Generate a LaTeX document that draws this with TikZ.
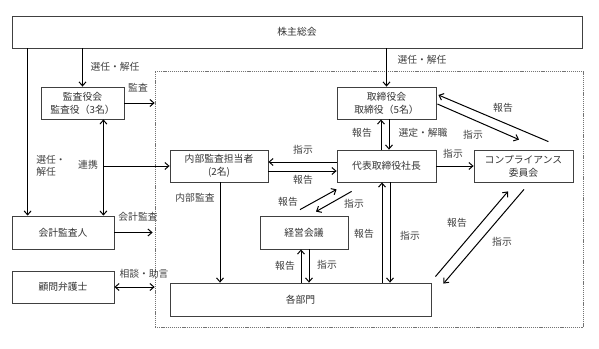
\documentclass[tikz,border=0pt]{standalone}
\usepackage{fontspec}
\setmainfont{Noto Sans CJK JP}
\usetikzlibrary{arrows.meta,positioning,calc}
\tikzset{
  box/.style={rectangle, draw=black!75, line width=0.8pt, minimum width=#1, minimum height=32pt,
              inner sep=1pt, align=center, font=\fontsize{9.8}{13}\selectfont, text=black!80},
  box/.default=99pt,
  frame/.style={rectangle, draw=black!55, line width=0.7pt, dash pattern=on 1.2pt off 0.9pt},
  lbl/.style={font=\fontsize{9.8}{12}\selectfont, text=black!75, inner sep=0pt, align=left},
  arr/.style={-{Straight Barb[length=4pt,width=7pt]}, line width=1pt},
  darr/.style={{Straight Barb[length=4pt,width=7pt]}-{Straight Barb[length=4pt,width=7pt]}, line width=1pt},
}

\begin{document}
\begin{tikzpicture}[x=1pt, y=-1pt]
\useasboundingbox (0,0) rectangle (599,348);

% SHAREHOLDERS
\node[box=570pt] (soukai) at (297,32) {株主総会};

% COMPANY FRAME
\node[frame, minimum width=428pt, minimum height=256pt] (grp) at (369,199) {};

% LEFT SIDE
\node[box=83pt] (kansa) at (82.5,103) {監査役会\\監査役（3名）};
\node[box=102pt, minimum height=33pt] (kaikei) at (63,232.5) {会計監査人};
\node[box=102pt] (komon) at (63,287) {顧問弁護士};

% INSIDE
\node[box=98pt] (naibu) at (219,166) {内部監査担当者\\(2名)};
\node[box] (tori) at (386.5,103) {取締役会\\取締役（5名）};
\node[box] (daihyo) at (386.5,166) {代表取締役社長};
\node[box] (comp) at (523.5,166) {コンプライアンス\\委員会};
\node[box=88pt, minimum height=33pt] (keiei) at (304,232.5) {経営会議};
\node[box=261pt, minimum height=33pt] (kakubu) at (300.5,299.5) {各部門};

% Arrows from shareholders
\draw[arr] (kansa.north |- soukai.south) -- (kansa.north);
\node[lbl] at (115,67) {選任・解任};
\draw[arr] (tori.north |- soukai.south) -- (tori.north);
\node[lbl] at (422,60) {選任・解任};
\coordinate (lft) at ($(kaikei.north west)+(16,0)$);
\draw[arr] (lft |- soukai.south) -- (lft);
\node[lbl] at (51,166) {選任・\\解任};

% Audit links
\coordinate (rk) at ($(kansa.south east)+(-21,0)$);
\draw[darr] (rk) -- (rk |- kaikei.north);
\draw[arr] (rk |- naibu.west) -- (naibu.west);
\node[lbl] at (88,165) {連携};
\draw[arr] (kansa.east) -- (kansa.east -| grp.west);
\node[lbl] at (138,88) {監査};
\draw[arr] (kaikei.east) -- ($(kaikei.east -| grp.west)+(-2,0)$);
\node[lbl] at (138,217) {会計監査};
\draw[darr] (komon.east) -- (komon.east -| grp.west);
\node[lbl] at (144,274) {相談・助言};

% Internal audit
\draw[arr] ($(daihyo.west)+(0,-4)$) -- ($(naibu.east)+(0,-4)$);
\node[lbl] at (303,150) {指示};
\draw[arr] ($(naibu.east)+(0,5)$) -- ($(daihyo.west)+(0,5)$);
\node[lbl] at (303,180) {報告};
\coordinate (na) at ($(naibu.south)+(1,0)$);
\draw[arr] (na) -- (na |- kakubu.north);
\node[lbl] at (195,198) {内部監査};

% Board and president
\draw[arr] ($(daihyo.north)+(-5.5,0)$) -- ($(tori.south)+(-5.5,0)$);
\node[lbl] at (362,133) {報告};
\draw[arr] ($(tori.south)+(2.5,0)$) -- ($(daihyo.north)+(2.5,0)$);
\node[lbl] at (423,133) {選定・解職};

% Compliance
\draw[arr] (daihyo.east) -- (comp.west);
\node[lbl] at (453,154) {指示};
\draw[arr] ($(comp.north east)+(-25,-8)$) -- ($(tori.east)+(2,-8)$);
\node[lbl] at (503,108) {報告};
\draw[arr] ($(tori.east)+(1,1)$) -- ($(comp.north)+(-4.5,-10)$);
\node[lbl] at (473,135) {指示};

% Management meeting
\draw[arr] ($(keiei.north)+(-4,-6)$) -- ($(daihyo.south west)+(0,7)$);
\node[lbl] at (288,202) {報告};
\draw[arr] ($(daihyo.south west)+(15,9)$) -- ($(keiei.north)+(12,-4)$);
\node[lbl] at (354,204) {指示};

% Departments
\coordinate (kup) at ($(keiei.south)+(-3,0)$);
\coordinate (kdn) at ($(keiei.south)+(5,0)$);
\draw[arr] (kup |- kakubu.north) -- (kup);
\draw[arr] (kdn) -- (kdn |- kakubu.north);
\node[lbl] at (285,266) {報告};
\node[lbl] at (327,265) {指示};
\coordinate (dup) at ($(daihyo.south)+(-4.5,0)$);
\coordinate (ddn) at ($(daihyo.south)+(3.5,0)$);
\draw[arr] (dup |- kakubu.north) -- (dup);
\draw[arr] (ddn) -- (ddn |- kakubu.north);
\node[lbl] at (364,234) {報告};
\node[lbl] at (410,236) {指示};
\draw[arr] ($(kakubu.north east)+(4,-6)$) -- ($(comp.south)+(-15.5,9)$);
\node[lbl] at (457,223) {報告};
\draw[arr] ($(comp.south)+(0.5,7)$) -- ($(kakubu.north east)+(12,1)$);
\node[lbl] at (502,242) {指示};

\end{tikzpicture}
\end{document}
